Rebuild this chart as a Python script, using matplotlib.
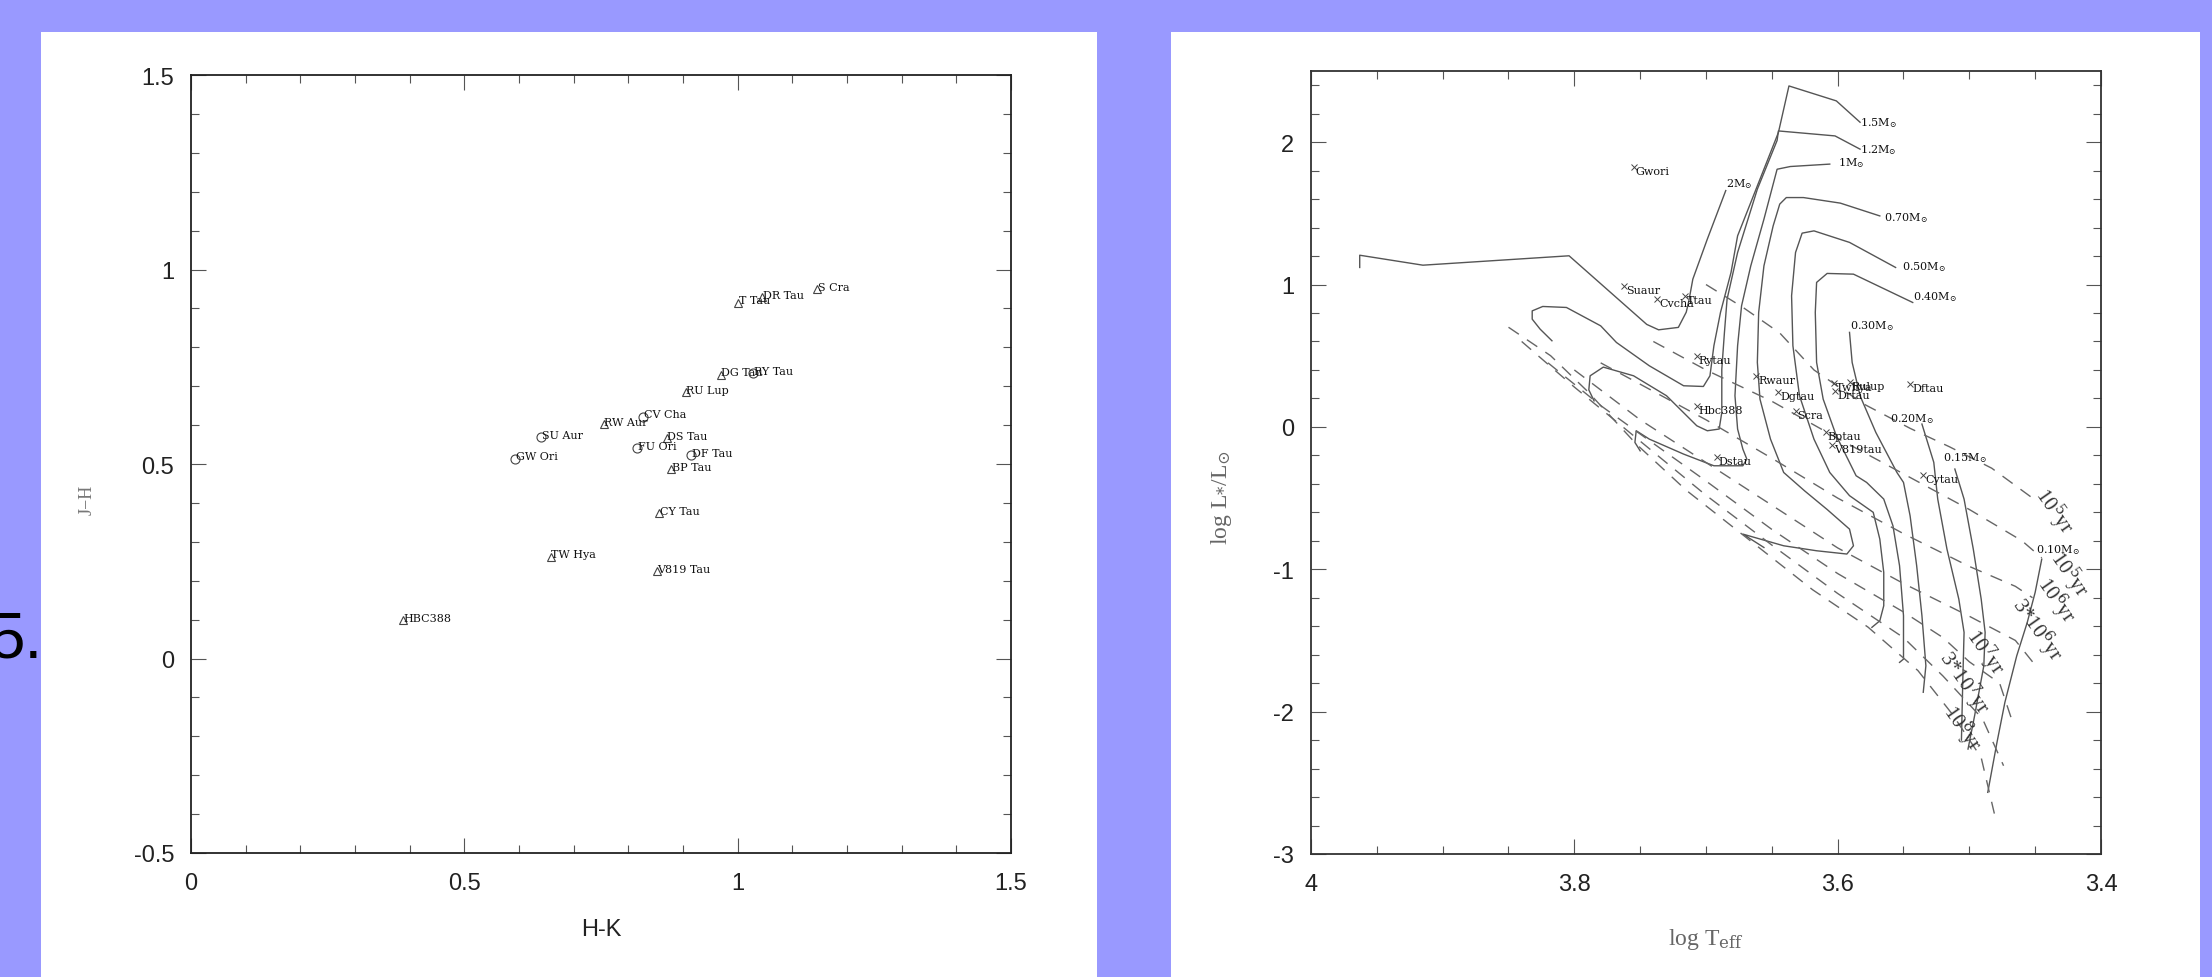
import matplotlib
matplotlib.use("Agg")
import matplotlib.pyplot as plt
from matplotlib.patches import Rectangle
from matplotlib.ticker import MultipleLocator, FixedLocator

plt.rcParams['mathtext.fontset'] = 'dejavuserif'

# ---------------- Left panel data (J-H vs H-K) ----------------
ir_names = ["HBC388", "TW Hya", "V819 Tau", "CY Tau", "GW Ori", "SU Aur", "RW Aur",
            "CV Cha", "FU Ori", "DS Tau", "DF Tau", "BP Tau", "RU Lup", "DG Tau",
            "RY Tau", "T Tau", "DR Tau", "S Cra"]
ir_hk = [0.388, 0.658, 0.852, 0.856, 0.593, 0.640, 0.755, 0.827, 0.816, 0.870,
         0.915, 0.878, 0.905, 0.969, 1.028, 1.001, 1.045, 1.145]
ir_jh = [0.098, 0.262, 0.224, 0.375, 0.514, 0.570, 0.602, 0.622, 0.540, 0.566,
         0.524, 0.486, 0.684, 0.730, 0.733, 0.915, 0.930, 0.949]
ir_marker = ["^", "^", "^", "^", "o", "o", "^", "o", "o", "^", "o", "^", "^", "^",
             "o", "^", "^", "^"]

left_xticks = [0, 0.5, 1, 1.5]
left_xticklabels = ["0", "0.5", "1", "1.5"]
left_yticks = [-0.5, 0, 0.5, 1, 1.5]
left_yticklabels = ["-0.5", "0", "0.5", "1", "1.5"]

# ---------------- Right panel data (HR diagram) ----------------
hr_names = ["Gwori", "Suaur", "Cvcha", "Ttau", "Rytau", "Hbc388", "Dstau", "Rwaur",
            "Dgtau", "Scra", "Twhya", "Rulup", "Drtau", "Dftau", "Bptau", "V819tau", "Cytau"]
hr_logT = [3.755, 3.762, 3.737, 3.716, 3.707, 3.707, 3.692, 3.662, 3.645, 3.632,
           3.603, 3.591, 3.602, 3.545, 3.609, 3.604, 3.535]
hr_logL = [1.824, 0.989, 0.897, 0.918, 0.497, 0.146, -0.212, 0.357, 0.244, 0.111,
           0.308, 0.315, 0.250, 0.301, -0.036, -0.128, -0.338]

right_xticks = [4, 3.8, 3.6, 3.4]
right_xticklabels = ["4", "3.8", "3.6", "3.4"]
right_yticks = [-3, -2, -1, 0, 1, 2]
right_yticklabels = ["-3", "-2", "-1", "0", "1", "2"]

# evolutionary tracks (log Teff, log L)
trk_2_T = [3.685, 3.699, 3.710, 3.713, 3.715, 3.721, 3.736, 3.745, 3.804, 3.915, 3.963, 3.963]
trk_2_L = [1.660, 1.319, 1.038, 0.886, 0.806, 0.699, 0.682, 0.720, 1.202, 1.136, 1.206, 1.120]

trk_15_T = [3.583, 3.601, 3.637, 3.645, 3.676, 3.681, 3.689, 3.694, 3.697, 3.702, 3.717,
            3.743, 3.768, 3.780, 3.806, 3.824, 3.832, 3.832, 3.826, 3.817]
trk_15_L = [2.140, 2.290, 2.395, 2.068, 1.342, 1.085, 0.804, 0.570, 0.359, 0.284, 0.289,
            0.429, 0.593, 0.710, 0.839, 0.846, 0.815, 0.757, 0.687, 0.605]

trk_12_T = [3.583, 3.602, 3.645, 3.646, 3.661, 3.676, 3.684, 3.686, 3.688, 3.688, 3.690,
            3.699, 3.707, 3.730, 3.755, 3.778, 3.788, 3.789, 3.785]
trk_12_L = [1.951, 2.044, 2.079, 2.012, 1.670, 1.225, 0.897, 0.663, 0.406, 0.102, -0.015,
            -0.027, 0.008, 0.219, 0.359, 0.420, 0.359, 0.260, 0.183]

trk_10_T = [3.606, 3.636, 3.646, 3.656, 3.666, 3.673, 3.676, 3.678, 3.676, 3.672, 3.669,
            3.672, 3.694, 3.717, 3.743, 3.753, 3.754, 3.750]
trk_10_L = [1.846, 1.829, 1.810, 1.459, 1.131, 0.850, 0.570, 0.219, -0.015, -0.156, -0.226,
            -0.273, -0.273, -0.191, -0.086, -0.027, -0.109, -0.168]

trk_07_T = [3.568, 3.598, 3.626, 3.639, 3.644, 3.649, 3.656, 3.660, 3.661, 3.659, 3.651,
            3.641, 3.625, 3.608, 3.591, 3.588, 3.593, 3.616, 3.641, 3.672, 3.666, 3.656]
trk_07_L = [1.482, 1.572, 1.611, 1.611, 1.565, 1.412, 1.131, 0.804, 0.453, 0.195, -0.086,
            -0.320, -0.450, -0.580, -0.718, -0.835, -0.893, -0.870, -0.835, -0.753, -0.788, -0.847]

trk_05_T = [3.556, 3.591, 3.618, 3.627, 3.632, 3.635, 3.634, 3.629, 3.618, 3.606, 3.591,
            3.573, 3.568, 3.565, 3.565, 3.568, 3.574]
trk_05_L = [1.120, 1.296, 1.377, 1.361, 1.225, 0.921, 0.570, 0.219, -0.086, -0.320, -0.483,
            -0.600, -0.788, -1.022, -1.256, -1.362, -1.408]

trk_04_T = [3.543, 3.588, 3.608, 3.616, 3.617, 3.616, 3.611, 3.601, 3.586, 3.578, 3.565,
            3.558, 3.553, 3.550, 3.550, 3.553]
trk_04_L = [0.874, 1.073, 1.078, 1.015, 0.804, 0.453, 0.195, -0.063, -0.343, -0.390, -0.507,
            -0.695, -0.975, -1.326, -1.631, -1.654]

trk_03_T = [3.591, 3.589, 3.583, 3.571, 3.555, 3.550, 3.545, 3.540, 3.536, 3.533, 3.535]
trk_03_L = [0.664, 0.453, 0.219, -0.039, -0.320, -0.390, -0.624, -0.975, -1.326, -1.678, -1.864]

trk_02_T = [3.536, 3.527, 3.524, 3.517, 3.508, 3.504, 3.505, 3.506]
trk_02_L = [0.020, -0.249, -0.507, -0.858, -1.209, -1.443, -1.794, -2.200]

trk_015_T = [3.511, 3.504, 3.497, 3.491, 3.488, 3.489, 3.496, 3.501]
trk_015_L = [-0.296, -0.507, -0.858, -1.209, -1.443, -1.678, -2.029, -2.263]

trk_01_T = [3.445, 3.450, 3.456, 3.464, 3.473, 3.479, 3.486]
trk_01_L = [-0.929, -1.162, -1.373, -1.608, -1.935, -2.216, -2.567]

mass_labels = ["2", "1.5", "1.2", "1", "0.70", "0.50", "0.40", "0.30", "0.20", "0.15", "0.10"]
mass_lab_T = [3.685, 3.583, 3.583, 3.600, 3.565, 3.551, 3.543, 3.591, 3.560, 3.520, 3.449]
mass_lab_L = [1.710, 2.143, 1.951, 1.858, 1.471, 1.131, 0.921, 0.715, 0.060, -0.210, -0.858]

# isochrones (log Teff, log L)
iso_1e5_T = [3.700, 3.672, 3.644, 3.618, 3.580, 3.545, 3.515, 3.483, 3.452]
iso_1e5_L = [1.000, 0.840, 0.660, 0.400, 0.160, -0.010, -0.140, -0.290, -0.500]
iso_3e5_T = [3.740, 3.700, 3.650, 3.600, 3.550, 3.500, 3.460, 3.445]
iso_3e5_L = [0.600, 0.400, 0.180, -0.080, -0.330, -0.580, -0.800, -0.920]
iso_1e6_T = [3.780, 3.750, 3.700, 3.650, 3.600, 3.550, 3.500, 3.465, 3.452]
iso_1e6_L = [0.450, 0.300, 0.050, -0.220, -0.500, -0.750, -0.980, -1.120, -1.200]
iso_3e6_T = [3.800, 3.750, 3.700, 3.650, 3.600, 3.550, 3.500, 3.465, 3.452]
iso_3e6_L = [0.400, 0.050, -0.250, -0.550, -0.850, -1.100, -1.330, -1.500, -1.650]
iso_1e7_T = [3.820, 3.780, 3.750, 3.700, 3.650, 3.600, 3.550, 3.520, 3.500, 3.477, 3.468]
iso_1e7_L = [0.450, 0.150, -0.050, -0.380, -0.720, -1.030, -1.300, -1.480, -1.650, -1.800, -2.050]
iso_3e7_T = [3.840, 3.800, 3.750, 3.700, 3.650, 3.600, 3.550, 3.520, 3.490, 3.474]
iso_3e7_L = [0.600, 0.280, -0.100, -0.480, -0.830, -1.170, -1.480, -1.750, -2.050, -2.380]
iso_1e8_T = [3.850, 3.818, 3.790, 3.753, 3.715, 3.673, 3.619, 3.577, 3.539, 3.513, 3.491, 3.481]
iso_1e8_L = [0.700, 0.500, 0.250, -0.120, -0.445, -0.751, -1.144, -1.406, -1.712, -2.017, -2.323, -2.716]

iso_labels = [r"10$^5$yr", r"10$^5$yr", r"10$^6$yr", r"3*10$^6$yr", r"10$^7$yr", r"3*10$^7$yr", r"10$^8$yr"]
iso_lab_T = [3.436, 3.424, 3.434, 3.449, 3.488, 3.504, 3.506]
iso_lab_L = [-0.590, -1.030, -1.210, -1.420, -1.580, -1.790, -2.110]

# ---------------- Figure ----------------
W, H = 2212, 978
fig = plt.figure(figsize=(W / 100, H / 100), dpi=100)
fig.patch.set_facecolor("#9999ff")

def px_rect(x0, y0, x1, y1):
    return Rectangle((x0 / W, 1 - y1 / H), (x1 - x0) / W, (y1 - y0) / H,
                     transform=fig.transFigure, facecolor="white", edgecolor="none", zorder=-10)

fig.patches.append(px_rect(41, 33, 1097, 978))
fig.patches.append(px_rect(1171, 33, 2200, 978))

def px_axes(x0, y0, x1, y1):
    a = fig.add_axes([x0 / W, 1 - y1 / H, (x1 - x0) / W, (y1 - y0) / H])
    a.set_zorder(5)
    a.patch.set_alpha(0)
    return a

tick_font = dict(family=["Liberation Sans", "DejaVu Sans"], size=17, color="#222222")
label_font = ["DejaVu Serif"]

def style_axes(a, spine_col):
    a.tick_params(which="both", direction="in", top=True, right=True, color="#555555", width=0.8)
    a.tick_params(which="major", length=11)
    a.tick_params(which="minor", length=6)
    a.tick_params(axis="x", pad=14)
    a.tick_params(axis="y", pad=12)
    for lab in a.get_xticklabels() + a.get_yticklabels():
        lab.set_fontfamily(tick_font["family"]); lab.set_fontsize(tick_font["size"]); lab.set_color(tick_font["color"])
    for s in a.spines.values():
        s.set_color(spine_col); s.set_linewidth(1.3)

# ---- left axes ----
ax1 = px_axes(191, 76, 1011, 854)
ax1.set_xlim(0, 1.5)
ax1.set_ylim(-0.5, 1.5)
ax1.xaxis.set_major_locator(FixedLocator(left_xticks))
ax1.set_xticklabels(left_xticklabels)
ax1.yaxis.set_major_locator(FixedLocator(left_yticks))
ax1.set_yticklabels(left_yticklabels)
ax1.xaxis.set_minor_locator(MultipleLocator(0.1))
ax1.yaxis.set_minor_locator(MultipleLocator(0.1))
style_axes(ax1, "#222222")

for n, x, y, m in zip(ir_names, ir_hk, ir_jh, ir_marker):
    ax1.plot([x], [y], marker=m, mfc="none", mec="#444444", ms=6 if m == "^" else 6.5, mew=0.8, ls="none")
    ax1.annotate(n, (x, y), xytext=(0.5, 1.5), textcoords="offset points", ha="left", va="center",
                 fontsize=8, family=label_font, color="#111111")

fig.text(601 / W, 1 - 930 / H, "H-K", ha="center", va="center", fontsize=17,
         family=["Liberation Sans", "DejaVu Sans"], color="#222222")
fig.text(87 / W, 1 - 500 / H, "J\u2212H", ha="center", va="center", fontsize=13, rotation=90,
         family=["Liberation Serif", "DejaVu Serif"], color="#777777")
fig.text(-10 / W, 1 - 640 / H, "5.", ha="left", va="center", fontsize=46,
         family=["Liberation Sans", "DejaVu Sans"], color="#000000")

# ---- right axes ----
ax2 = px_axes(1311, 72, 2101, 855)
ax2.set_xlim(4, 3.4)
ax2.set_ylim(-3, 2.5)
ax2.xaxis.set_major_locator(FixedLocator(right_xticks))
ax2.set_xticklabels(right_xticklabels)
ax2.yaxis.set_major_locator(FixedLocator(right_yticks))
ax2.set_yticklabels(right_yticklabels)
ax2.xaxis.set_minor_locator(MultipleLocator(0.05))
ax2.yaxis.set_minor_locator(MultipleLocator(0.2))
style_axes(ax2, "#333333")

track_col = "#555555"
tracks = [(trk_2_T, trk_2_L), (trk_15_T, trk_15_L), (trk_12_T, trk_12_L), (trk_10_T, trk_10_L),
          (trk_07_T, trk_07_L), (trk_05_T, trk_05_L), (trk_04_T, trk_04_L), (trk_03_T, trk_03_L),
          (trk_02_T, trk_02_L), (trk_015_T, trk_015_L), (trk_01_T, trk_01_L)]
for T, L in tracks:
    ax2.plot(T, L, color=track_col, lw=1.0)

isos = [(iso_1e5_T, iso_1e5_L), (iso_3e5_T, iso_3e5_L), (iso_1e6_T, iso_1e6_L), (iso_3e6_T, iso_3e6_L),
        (iso_1e7_T, iso_1e7_L), (iso_3e7_T, iso_3e7_L), (iso_1e8_T, iso_1e8_L)]
for T, L in isos:
    ax2.plot(T, L, color="#666666", lw=1.0, ls=(0, (9, 7)))

for lab, T, L in zip(mass_labels, mass_lab_T, mass_lab_L):
    ax2.text(T, L, lab + r"M$_{\odot}$", ha="left", va="center", fontsize=8,
             family=label_font, color="#111111")

for lab, T, L in zip(iso_labels, iso_lab_T, iso_lab_L):
    ax2.text(T, L, lab, ha="center", va="center", fontsize=15, rotation=-55, rotation_mode="anchor",
             family=["Liberation Serif", "DejaVu Serif"], color="#333333")

ax2.plot(hr_logT, hr_logL, "x", color="#444444", ms=4, mew=0.7, ls="none")
for n, T, L in zip(hr_names, hr_logT, hr_logL):
    ax2.annotate(n, (T, L), xytext=(1.5, -3), textcoords="offset points", ha="left", va="center",
                 fontsize=8, family=label_font, color="#111111")

fig.text(1706 / W, 1 - 940 / H, r"log T$_{\rm eff}$", ha="center", va="center", fontsize=17,
         family=["Liberation Serif", "DejaVu Serif"], color="#666666")
fig.text(1222 / W, 1 - 497 / H, r"log L$_{*}$/L$_{\odot}$", ha="center", va="center", fontsize=17,
         rotation=90, family=["Liberation Serif", "DejaVu Serif"], color="#666666")

fig.savefig("out.png", dpi=100, facecolor=fig.get_facecolor())
